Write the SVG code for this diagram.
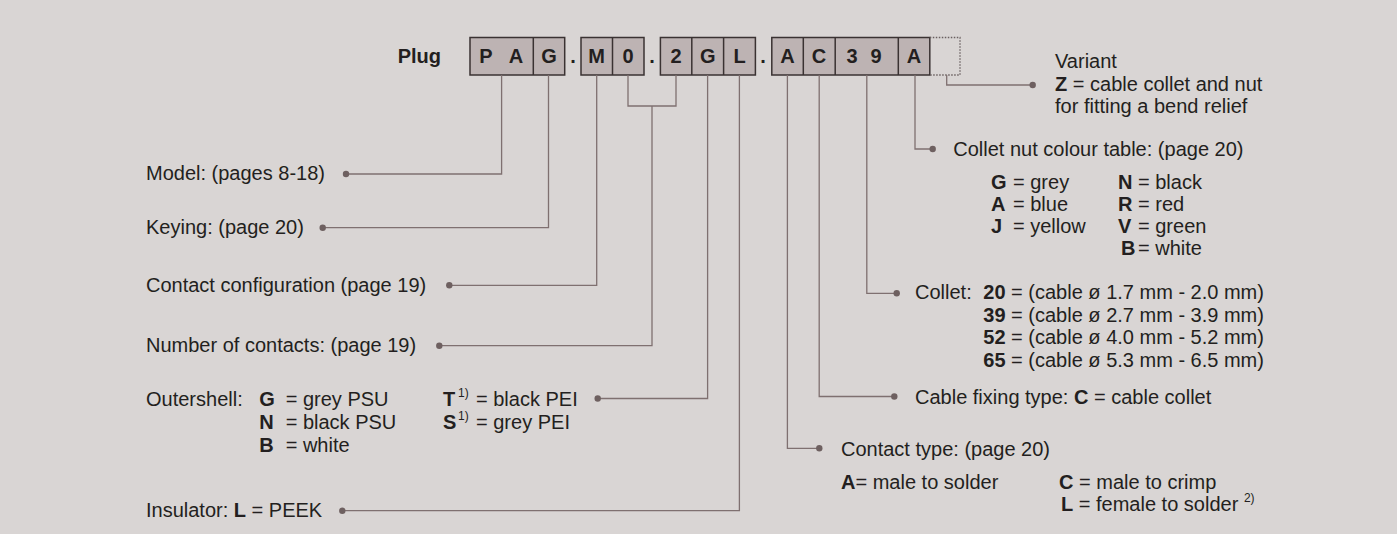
<svg xmlns="http://www.w3.org/2000/svg" width="1397" height="534" viewBox="0 0 1397 534">
<style>
text{font-family:"Liberation Sans",Arial,Helvetica,sans-serif;fill:#231f20;font-size:20px}
.b{font-weight:bold}
.cell{font-weight:bold;text-anchor:middle;font-size:20px}
.box{fill:#bdb3b3;stroke:#3a3232;stroke-width:1.5}
.div{stroke:#3a3232;stroke-width:1.5}
.con path{fill:none;stroke:#7f7070;stroke-width:1.3}
.con circle{fill:#6e6060}
.sup{font-size:12px}
</style>
<rect x="0" y="0" width="1397" height="534" fill="#d9d5d4"/>
<g id="code">
<text x="441" y="63" class="b" text-anchor="end">Plug</text>
<rect class="box" x="470" y="37.5" width="94.7" height="37.5"/>
<line class="div" x1="533.3" y1="37.5" x2="533.3" y2="75"/>
<rect class="box" x="581" y="37.5" width="63" height="37.5"/>
<line class="div" x1="612.5" y1="37.5" x2="612.5" y2="75"/>
<rect class="box" x="660.4" y="37.5" width="95" height="37.5"/>
<line class="div" x1="691.8" y1="37.5" x2="691.8" y2="75"/>
<line class="div" x1="723.6" y1="37.5" x2="723.6" y2="75"/>
<rect class="box" x="771.8" y="37.5" width="158" height="37.5"/>
<line class="div" x1="803.3" y1="37.5" x2="803.3" y2="75"/>
<line class="div" x1="835.2" y1="37.5" x2="835.2" y2="75"/>
<line class="div" x1="898.3" y1="37.5" x2="898.3" y2="75"/>
<path d="M929.8,37.5 H960 V75 H929.8" fill="none" stroke="#6a6060" stroke-width="1.3" stroke-dasharray="1.5,1.5"/>
<text class="cell" x="486" y="63">P</text>
<text class="cell" x="516" y="63">A</text>
<text class="cell" x="549" y="63">G</text>
<text class="cell" x="573" y="63">.</text>
<text class="cell" x="596.7" y="63">M</text>
<text class="cell" x="628" y="63">0</text>
<text class="cell" x="652" y="63">.</text>
<text class="cell" x="676" y="63">2</text>
<text class="cell" x="707.7" y="63">G</text>
<text class="cell" x="739.5" y="63">L</text>
<text class="cell" x="763" y="63">.</text>
<text class="cell" x="787.5" y="63">A</text>
<text class="cell" x="819" y="63">C</text>
<text class="cell" x="852" y="63">3</text>
<text class="cell" x="876" y="63">9</text>
<text class="cell" x="914" y="63">A</text>
</g>
<g class="con" id="connectors">
<path d="M501.6,75 V174 H346"/><circle cx="346" cy="174" r="3.2"/>
<path d="M548.5,75 V227.7 H322.7"/><circle cx="322.7" cy="227.7" r="3.2"/>
<path d="M596.7,75 V285.3 H449.3"/><circle cx="449.3" cy="285.3" r="3.2"/>
<path d="M628,75 V106 H676 V75"/>
<path d="M652,106 V345.7 H439.3"/><circle cx="439.3" cy="345.7" r="3.2"/>
<path d="M707.6,75 V398.5 H597.7"/><circle cx="597.7" cy="398.5" r="3.2"/>
<path d="M739.4,75 V510.7 H342.3"/><circle cx="342.3" cy="510.7" r="3.2"/>
<path d="M787.4,75 V448.3 H819.3"/><circle cx="819.3" cy="448.3" r="3.2"/>
<path d="M819.2,75 V396.5 H894.3"/><circle cx="894.3" cy="396.5" r="3.2"/>
<path d="M866.8,75 V293.3 H896.7"/><circle cx="896.7" cy="293.3" r="3.2"/>
<path d="M915,75 V149 H932.7"/><circle cx="932.7" cy="149" r="3.2"/>
<path d="M946.7,75 V85 H1032.7"/><circle cx="1032.7" cy="85" r="3.2"/>
</g>
<g id="model"><text x="146" y="180">Model: (pages 8-18)</text></g>
<g id="keying"><text x="146" y="234">Keying: (page 20)</text></g>
<g id="contact-config"><text x="146" y="292">Contact configuration (page 19)</text></g>
<g id="num-contacts"><text x="146" y="352">Number of contacts: (page 19)</text></g>
<g id="outershell">
<text x="146" y="406">Outershell:</text>
<text x="259.3" y="406" class="b">G</text><text x="285.7" y="406">= grey PSU</text>
<text x="259.3" y="429" class="b">N</text><text x="285.7" y="429">= black PSU</text>
<text x="259.3" y="452" class="b">B</text><text x="285.7" y="452">= white</text>
<text x="443" y="406" class="b">T</text><text x="458" y="397" class="sup">1)</text><text x="476" y="406">= black PEI</text>
<text x="443" y="429" class="b">S</text><text x="458" y="420" class="sup">1)</text><text x="476" y="429">= grey PEI</text>
</g>
<g id="insulator"><text x="146" y="517">Insulator: <tspan class="b">L</tspan> = PEEK</text></g>
<g id="variant">
<text x="1055" y="68">Variant</text>
<text x="1055" y="91"><tspan class="b">Z</tspan> = cable collet and nut</text>
<text x="1055" y="113">for fitting a bend relief</text>
</g>
<g id="collet-nut">
<text x="953.3" y="156">Collet nut colour table: (page 20)</text>
<text x="991" y="189" class="b">G</text><text x="1013" y="189">= grey</text>
<text x="991" y="211" class="b">A</text><text x="1013" y="211">= blue</text>
<text x="991" y="233" class="b">J</text><text x="1013" y="233">= yellow</text>
<text x="1118" y="189" class="b">N</text><text x="1138" y="189">= black</text>
<text x="1118" y="211" class="b">R</text><text x="1138" y="211">= red</text>
<text x="1118" y="233" class="b">V</text><text x="1138" y="233">= green</text>
<text x="1121" y="255" class="b">B</text><text x="1138" y="255">= white</text>
</g>
<g id="collet">
<text x="915" y="299">Collet:</text>
<text x="983.3" y="299"><tspan class="b">20</tspan> = (cable ø 1.7 mm - 2.0 mm)</text>
<text x="983.3" y="321.5"><tspan class="b">39</tspan> = (cable ø 2.7 mm - 3.9 mm)</text>
<text x="983.3" y="344"><tspan class="b">52</tspan> = (cable ø 4.0 mm - 5.2 mm)</text>
<text x="983.3" y="366.5"><tspan class="b">65</tspan> = (cable ø 5.3 mm - 6.5 mm)</text>
</g>
<g id="cable-fixing"><text x="915" y="403.5">Cable fixing type: <tspan class="b">C</tspan> = cable collet</text></g>
<g id="contact-type">
<text x="841" y="455.5">Contact type: (page 20)</text>
<text x="841" y="488.5"><tspan class="b">A</tspan>= male to solder</text>
<text x="1059" y="488.5"><tspan class="b">C</tspan> = male to crimp</text>
<text x="1061" y="511"><tspan class="b">L</tspan> = female to solder <tspan class="sup" dy="-9">2)</tspan></text>
</g>
</svg>
